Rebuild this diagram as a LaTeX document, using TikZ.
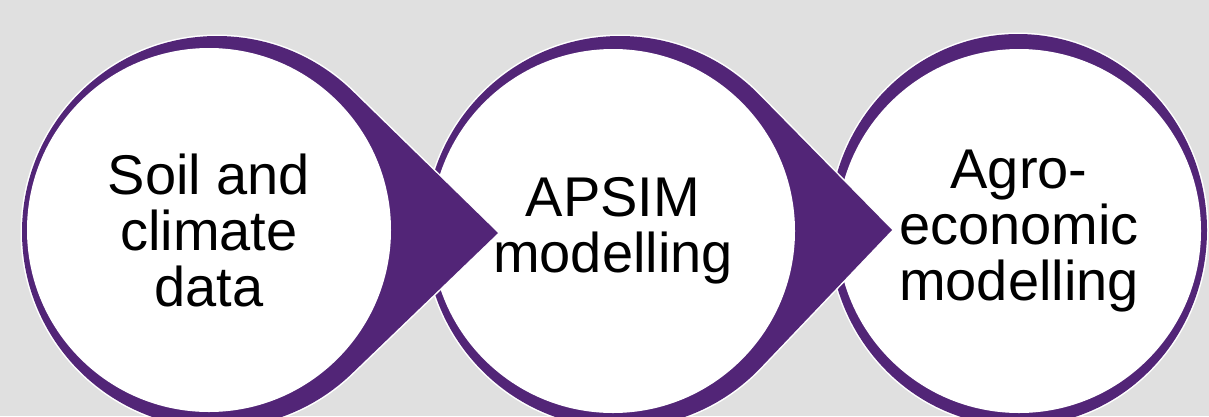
\documentclass[tikz,border=0pt]{standalone}
\usepackage{fontspec}
\setmainfont{Liberation Sans}
\usetikzlibrary{calc}
\definecolor{grape}{HTML}{522577}
\definecolor{slide}{HTML}{E0E0E0}
\tikzset{x=1pt, y=-1pt,
         stage/.style={circle, fill=white, minimum size=364pt, inner sep=0pt, align=center,
                       font=\fontsize{56}{56}\selectfont},
         halo/.style={draw=white, line width=3pt},
         backing/.style={fill=grape}
        }

\begin{document}
\begin{tikzpicture}
        \fill [slide] (0,0) rectangle (1209,416);
        \useasboundingbox (0,0) rectangle (1209,416);
        % centres of the white discs, of the purple backs, and the arrow points
        \coordinate (c1) at (209,230);
        \coordinate (c2) at (613,231);
        \coordinate (c3) at (1019,231);
        \coordinate (b1) at (217,232);
        \coordinate (b2) at (620,232);
        \coordinate (tip1) at (498,233);
        \coordinate (tip2) at (892,230);

        % last step first, each arrow then lies over the ring after it
        \path [halo] (1018,230) ellipse [x radius=189, y radius=196];
        \path [backing] (1018,230) ellipse [x radius=189, y radius=196];
        \node [stage] (agro) at (c3) {Agro-\\economic\\modelling};

        \path [halo] (b2) ellipse [x radius=195, y radius=196]
              (tip2) -- ($(b2)+(45:195 and 196)$) -- ($(b2)+(-45:195 and 196)$) -- cycle;
        \path [backing] (b2) ellipse [x radius=195, y radius=196]
              (tip2) -- ($(b2)+(45:195 and 196)$) -- ($(b2)+(-45:195 and 196)$) -- cycle;
        \node [stage] (apsim) at (c2) {APSIM\\modelling};

        \path [halo] (b1) ellipse [x radius=195, y radius=196]
              (tip1) -- ($(b1)+(46:195 and 196)$) -- ($(b1)+(-46:195 and 196)$) -- cycle;
        \path [backing] (b1) ellipse [x radius=195, y radius=196]
              (tip1) -- ($(b1)+(46:195 and 196)$) -- ($(b1)+(-46:195 and 196)$) -- cycle;
        \node [stage] (soil) at (c1) {Soil and\\climate\\data};
      \end{tikzpicture}
\end{document}
